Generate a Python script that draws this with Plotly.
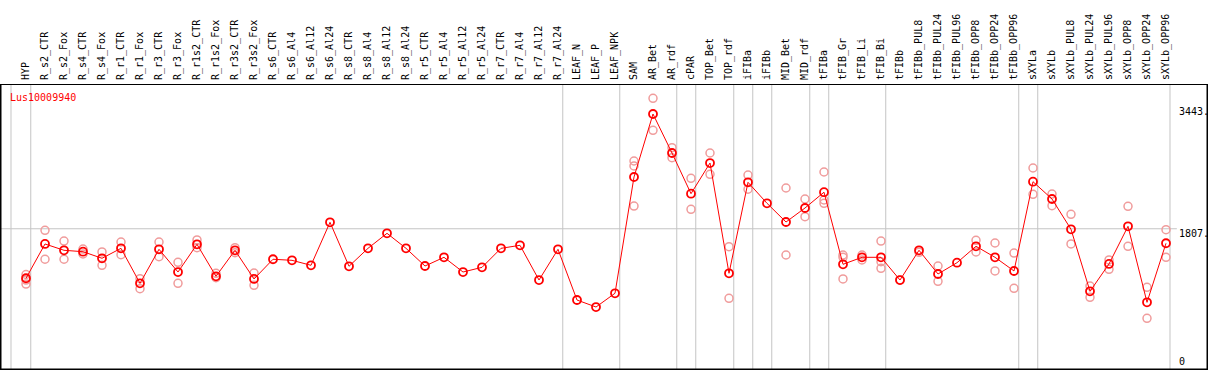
import plotly.graph_objects as go

categories = ["HYP", "R_s2_CTR", "R_s2_Fox", "R_s4_CTR", "R_s4_Fox", "R_r1_CTR", "R_r1_Fox",
              "R_r3_CTR", "R_r3_Fox", "R_r1s2_CTR", "R_r1s2_Fox", "R_r3s2_CTR", "R_r3s2_Fox",
              "R_s6_CTR", "R_s6_Al4", "R_s6_Al12", "R_s6_Al24", "R_s8_CTR", "R_s8_Al4", "R_s8_Al12",
              "R_s8_Al24", "R_r5_CTR", "R_r5_Al4", "R_r5_Al12", "R_r5_Al24", "R_r7_CTR", "R_r7_Al4",
              "R_r7_Al12", "R_r7_Al24", "LEAF_N", "LEAF_P", "LEAF_NPK", "SAM", "AR_Bet", "AR_rdf",
              "cPAR", "TOP_Bet", "TOP_rdf", "iFIBa", "iFIBb", "MID_Bet", "MID_rdf", "tFIBa",
              "tFIB_Gr", "tFIB_Li", "tFIB_Bi", "tFIBb", "tFIBb_PUL8", "tFIBb_PUL24", "tFIBb_PUL96",
              "tFIBb_OPP8", "tFIBb_OPP24", "tFIBb_OPP96", "sXYLa", "sXYLb", "sXYLb_PUL8",
              "sXYLb_PUL24", "sXYLb_PUL96", "sXYLb_OPP8", "sXYLb_OPP24", "sXYLb_OPP96"]

means = [1101, 1590, 1500, 1480, 1386, 1528, 1029, 1514, 1190, 1585, 1129, 1500, 1091,
         1372, 1357, 1286, 1899, 1272, 1528, 1742, 1528, 1276, 1400, 1190, 1257, 1528, 1571,
         1076, 1514, 791, 691, 887, 2545, 3443, 2887, 2307, 2744, 1172, 2469, 2170, 1903, 2103,
         2328, 1300, 1400, 1400, 1076, 1500, 1162, 1323, 1557, 1400, 1205, 2478, 2231, 1799,
         915, 1305, 1842, 758, 1600]

replicates = [[1155, 1076, 1019], [1785, 1372], [1632, 1372], [1518, 1447], [1476, 1286],
              [1618, 1437], [1095, 952], [1618, 1409], [1329, 1029], [1647, 1537], [1172, 1109],
              [1537, 1466], [1176, 1001], [], [], [], [], [], [], [], [], [], [], [], [], [], [],
              [], [], [], [], [], [2773, 2702, 2131], [3667, 3211], [2963, 2820], [2526, 2084],
              [2887, 2583], [1551, 815], [2573, 2370], [], [2388, 1433], [2231, 1979],
              [2616, 2217, 2170], [1433, 1400, 1091], [1433, 1362], [1632, 1337, 1243], [1076],
              [1471], [1276, 1058], [], [1642, 1476], [1604, 1205], [1461, 958], [2673, 2298],
              [2302, 2136], [2013, 1590], [991, 830], [1362, 1229], [2127, 1557], [972, 530],
              [1794, 1400]]

tick_values = [0, 1807, 3443]
tick_texts = ["0", "1807.", "3443."]
gene_label = "Lus10009940"
separators = [-0.79, 0.25, 28.25, 31.25, 34.25, 35.25, 37.25, 38.25, 39.25, 41.25, 42.25,
              45.25, 52.25, 53.25, 60.21]

W, H = 1209, 370
ML, MR, MT, MB = 1, 2, 85, 1
plot_h = H - MT - MB
XMIN, XMAX = -1.316, 62.158
YMIN, YMAX = -192.5, 3856.5
FONT = "DejaVu Sans Mono"

idx = list(range(len(categories)))
rep_x, rep_y = [], []
for i, reps in enumerate(replicates):
    for v in reps:
        rep_x.append(i)
        rep_y.append(v)

fig = go.Figure()
fig.add_trace(go.Scatter(x=rep_x, y=rep_y, mode="markers", hoverinfo="skip", cliponaxis=False,
                         marker=dict(symbol="circle-open", size=8, color="#f09c9c",
                                     line=dict(width=1.5, color="#f09c9c"))))
fig.add_trace(go.Scatter(x=idx, y=means, mode="lines+markers", cliponaxis=False,
                         line=dict(color="#ff0000", width=1),
                         marker=dict(symbol="circle-open", size=8, color="#ff0000",
                                     line=dict(width=1.8, color="#ff0000"))))

top_paper = (plot_h + MB - 0.5) / plot_h
shapes = []
for s in separators:
    px = (s - XMIN) / (XMAX - XMIN)
    shapes.append(dict(type="line", xref="paper", yref="paper", x0=px, x1=px, y0=0, y1=top_paper,
                       line=dict(color="#c4c4c4", width=1), layer="below"))
shapes.append(dict(type="line", xref="paper", yref="y", x0=0, x1=0.975, y0=tick_values[1],
                   y1=tick_values[1], line=dict(color="#c4c4c4", width=1), layer="below"))
shapes.append(dict(type="rect", xref="paper", yref="paper", x0=0, x1=1, y0=0, y1=top_paper,
                   line=dict(color="black", width=1)))

annotations = []
yshifts = [1, 2, 9]
for v, t, ys in zip(tick_values, tick_texts, yshifts):
    annotations.append(dict(x=(1178 - ML) / (W - ML - MR), xref="paper", y=v, yref="y",
                            text=t, showarrow=False, xanchor="left", yanchor="top", yshift=ys,
                            borderpad=0, font=dict(family=FONT, size=10, color="black")))
annotations.append(dict(x=(8 - ML) / (W - ML - MR), xref="paper", y=(H - MB - 97) / plot_h,
                        yref="paper", text=gene_label, showarrow=False, xanchor="left",
                        yanchor="middle", font=dict(family=FONT, size=10, color="#ff0000")))

fig.update_layout(
    width=W, height=H, margin=dict(l=ML, r=MR, t=MT, b=MB, pad=0, autoexpand=False),
    paper_bgcolor="white", plot_bgcolor="white", showlegend=False,
    xaxis=dict(range=[XMIN, XMAX], side="top", tickmode="array", tickvals=idx,
               ticktext=categories, tickangle=-90, ticks="", showgrid=False, zeroline=False,
               showline=True, linecolor="black", linewidth=1, mirror=True, automargin=False,
               ticklabelstandoff=2,
               tickfont=dict(family=FONT, size=10, color="black")),
    yaxis=dict(range=[YMIN, YMAX], showticklabels=False, ticks="", showgrid=False,
               zeroline=False, showline=True, linecolor="black", linewidth=1, mirror=True,
               automargin=False),
    shapes=shapes, annotations=annotations,
)

fig.write_html("out.html", config={"displayModeBar": False},
               post_script="document.body.style.margin='0';document.body.style.overflow='hidden';")
